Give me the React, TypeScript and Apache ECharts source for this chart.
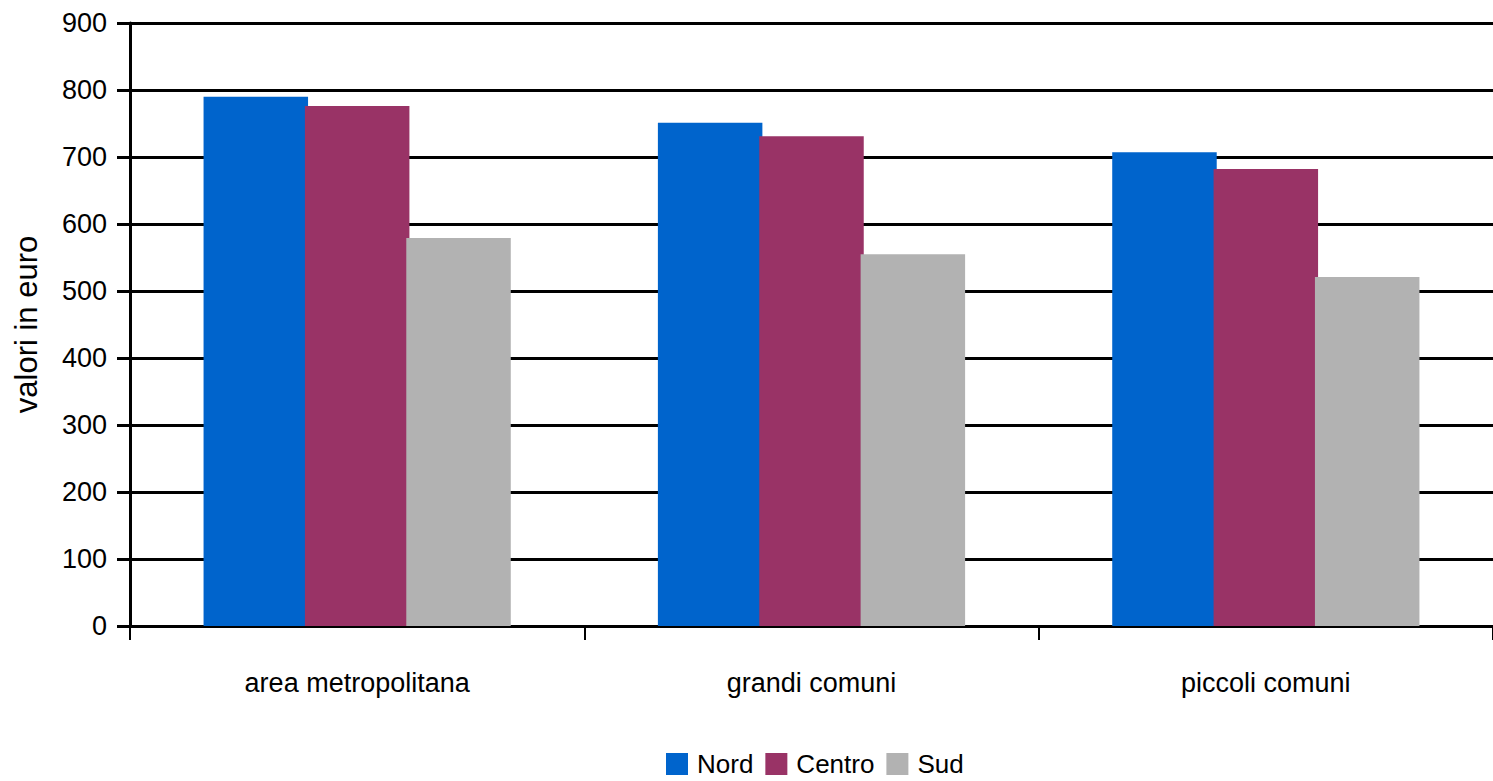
import React, { useEffect, useRef } from "react";
import * as echarts from "echarts";

const categories = ["area metropolitana", "grandi comuni", "piccoli comuni"];
const seriesNames = ["Nord", "Centro", "Sud"];
const nordValues = [790, 751, 707];
const centroValues = [776, 731, 682];
const sudValues = [579, 555, 521];
const seriesColors = ["#0064CC", "#993366", "#B2B2B2"];
const yAxisTitle = "valori in euro";

const FONT = "'Liberation Sans', Arial, sans-serif";

export default function App() {
  const ref = useRef<HTMLDivElement>(null);
  useEffect(() => {
    if (!ref.current) return;
    const chart = echarts.init(ref.current, undefined, { renderer: "svg" });
    const values = [nordValues, centroValues, sudValues];
    chart.setOption({
      animation: false,
      backgroundColor: "#ffffff",
      grid: { left: 130, right: 0, top: 23, bottom: 155, containLabel: false },
      legend: {
        data: seriesNames,
        left: 666,
        top: 751,
        padding: 0,
        itemWidth: 22,
        itemHeight: 22,
        itemGap: 12,
        icon: "rect",
        textStyle: { fontFamily: FONT, fontSize: 26, lineHeight: 26, color: "#000", padding: [0, 0, 0, 4] },
      },
      xAxis: {
        type: "category",
        data: categories,
        axisLine: { show: true, lineStyle: { color: "#000", width: 3 } },
        axisTick: { show: true, length: 14, lineStyle: { color: "#000", width: 2 } },
        axisLabel: { fontFamily: FONT, fontSize: 27, color: "#000", margin: 43 },
        splitLine: { show: false },
      },
      yAxis: {
        type: "value",
        min: 0,
        max: 900,
        interval: 100,
        name: yAxisTitle,
        nameLocation: "middle",
        nameGap: 88,
        nameTextStyle: { fontFamily: FONT, fontSize: 31, color: "#000" },
        axisLine: { show: true, lineStyle: { color: "#000", width: 3 } },
        axisTick: { show: true, length: 13, lineStyle: { color: "#000", width: 3 } },
        axisLabel: { fontFamily: FONT, fontSize: 27, color: "#000", margin: 23 },
        splitLine: { show: true, lineStyle: { color: "#000", width: 3 } },
      },
      series: seriesNames.map((name, i) => ({
        name,
        type: "bar",
        data: values[i],
        barWidth: "23%",
        barGap: "-3%",
        itemStyle: { color: seriesColors[i] },
      })),
    });
    return () => chart.dispose();
  }, []);
  return (
    <div
      ref={ref}
      style={{ position: "fixed", left: 0, top: 0, width: 1493, height: 781, background: "#fff" }}
    />
  );
}
